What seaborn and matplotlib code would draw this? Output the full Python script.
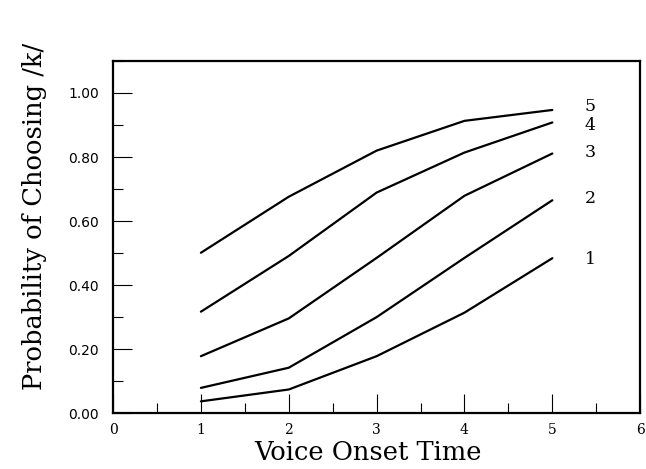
import matplotlib
matplotlib.use("Agg")
import matplotlib.pyplot as plt
from matplotlib.ticker import MultipleLocator
import numpy as np
import pandas as pd
import seaborn as sns

# Voice onset time continuum steps
vot_steps = [1, 2, 3, 4, 5]

# Probability of choosing /k/ for each curve (labelled 1..5)
curve_1 = [0.037, 0.074, 0.178, 0.314, 0.484]
curve_2 = [0.079, 0.142, 0.300, 0.485, 0.665]
curve_3 = [0.178, 0.296, 0.485, 0.679, 0.811]
curve_4 = [0.317, 0.491, 0.689, 0.814, 0.908]
curve_5 = [0.501, 0.676, 0.820, 0.913, 0.947]

curve_names = ["1", "2", "3", "4", "5"]
curves = [curve_1, curve_2, curve_3, curve_4, curve_5]

# End-label heights for the curve names
label_heights = [0.48, 0.67, 0.815, 0.897, 0.957]

y_tick_values = [0.0, 0.2, 0.4, 0.6, 0.8, 1.0]
y_tick_labels = ["0.00", "0.20", "0.40", "0.60", "0.80", "1.00"]
x_tick_values = [0, 1, 2, 3, 4, 5, 6]

df = pd.DataFrame({
    "vot": np.tile(vot_steps, len(curves)),
    "prob": np.concatenate(curves),
    "curve": np.repeat(curve_names, len(vot_steps)),
})

sns.set_style("white")
plt.rcParams["font.family"] = ["DejaVu Serif"]
plt.rcParams["text.color"] = "black"
plt.rcParams["xtick.color"] = "black"
plt.rcParams["ytick.color"] = "black"
plt.rcParams["axes.labelcolor"] = "black"

fig = plt.figure(figsize=(6.46, 4.69), dpi=100)
ax = fig.add_axes([0.175, 0.119, 0.816, 0.751])

sns.lineplot(
    data=df, x="vot", y="prob", hue="curve",
    palette=["black"] * len(curve_names),
    linewidth=1.6, legend=False, ax=ax, estimator=None, sort=False,
)

for name, h in zip(curve_names, label_heights):
    ax.text(5.43, h, name, fontsize=12.5, ha="center", va="center",
            family="DejaVu Serif", color="black")

ax.set_xlim(0, 6)
ax.set_ylim(0, 1.10)

ax.set_xticks(x_tick_values)
ax.set_xticklabels([str(v) for v in x_tick_values], fontsize=10,
                   family="DejaVu Serif")
ax.xaxis.set_minor_locator(MultipleLocator(0.5))
ax.set_yticks(y_tick_values)
ax.set_yticklabels(y_tick_labels, fontsize=10, family="DejaVu Sans")
ax.yaxis.set_minor_locator(MultipleLocator(0.1))

ax.tick_params(axis="both", which="major", direction="in", length=14,
               width=0.8, color="black")
ax.tick_params(axis="both", which="minor", direction="in", length=7,
               width=0.8, color="black")
ax.tick_params(axis="x", which="both", bottom=True, top=False, pad=7)
ax.tick_params(axis="y", which="both", left=True, right=False, pad=10)

for side in ["left", "right", "top", "bottom"]:
    ax.spines[side].set_visible(True)
    ax.spines[side].set_color("black")
    ax.spines[side].set_linewidth(1.6)

ax.set_xlabel("Voice Onset Time", fontsize=18.5)
ax.set_ylabel("Probability of Choosing /k/", fontsize=18.5)
ax.xaxis.set_label_coords(0.484, -0.075)
ax.yaxis.set_label_coords(-0.125, 0.56)

fig.savefig("out.png", dpi=100, facecolor="white")
